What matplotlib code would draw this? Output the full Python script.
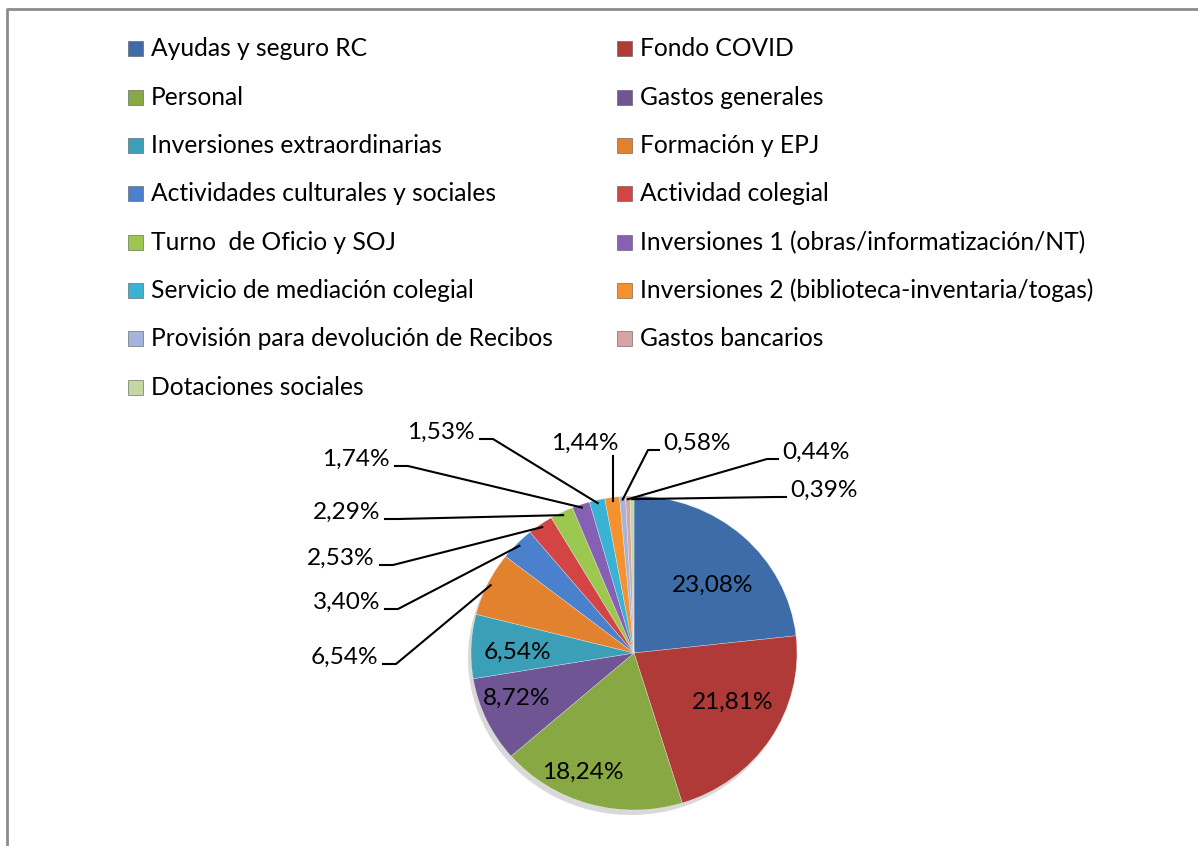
import numpy as np
import matplotlib.pyplot as plt
from matplotlib.patches import Rectangle, Ellipse

categories = ['Ayudas y seguro RC', 'Fondo COVID', 'Personal', 'Gastos generales',
              'Inversiones extraordinarias', 'Formación y EPJ',
              'Actividades culturales y sociales', 'Actividad colegial',
              'Turno  de Oficio y SOJ', 'Inversiones 1 (obras/informatización/NT)',
              'Servicio de mediación colegial', 'Inversiones 2 (biblioteca-inventaria/togas)',
              'Provisión para devolución de Recibos', 'Gastos bancarios',
              'Dotaciones sociales']
values = [23.08, 21.81, 18.24, 8.72, 6.54, 6.54, 3.40, 2.53, 2.29, 1.74,
          1.53, 1.44, 0.58, 0.44, 0.39]
colors = ['#3d6ca8', '#b03a37', '#87a843', '#6f5593', '#3b9fb8', '#e2822f',
          '#4a80cc', '#d34545', '#9cc850', '#8660b3', '#3ab2d4', '#f3922f',
          '#a3b5dc', '#d8a3a3', '#c4d7a2']

# layout, in image pixels (y down)
W, H = 1198, 846
cx, cy, rx, ry = 634, 653, 163, 157
# inside labels (center)
inside_pos = {0: (713, 585), 1: (733, 702), 2: (583, 772), 3: (517, 698), 4: (517, 652)}
# outside labels: (x, y, ha)
outside_pos = {5: (378, 657, 'right'), 6: (380, 602, 'right'), 7: (375, 558, 'right'),
               8: (380, 512, 'right'), 9: (390, 459, 'right'), 10: (475, 432, 'right'),
               11: (585, 443, 'center'), 12: (663, 443, 'left'), 13: (782, 452, 'left'),
               14: (790, 490, 'left')}

plt.rcParams['font.family'] = ['Lato', 'DejaVu Sans']

fig = plt.figure(figsize=(W / 100, H / 100), dpi=100)
bg = fig.add_axes([0, 0, 1, 1])
bg.set_xlim(0, W)
bg.set_ylim(H, 0)
bg.axis('off')

# chart frame
bg.plot([7, 7, W + 5], [H + 5, 9, 9], color='#8c8c8c', lw=2, solid_capstyle='butt')

# legend (two columns)
col_x = [128, 617]
row_y0, row_dy = 49, 48.3
for i, (lab, c) in enumerate(zip(categories, colors)):
    x = col_x[i % 2]
    y = row_y0 + (i // 2) * row_dy
    bg.add_patch(Rectangle((x, y - 7.5), 15, 15, facecolor=c, edgecolor='#555555', lw=0.4))
    bg.text(x + 23, y, lab, fontsize=17.7, va='center', ha='left', color='black')

bg.add_patch(Ellipse((cx - 3, cy + 5), 2 * rx, 2 * ry, facecolor='#000000', alpha=0.15, lw=0))

# pie
ax = fig.add_axes([(cx - rx) / W, (H - cy - ry) / H, 2 * rx / W, 2 * ry / H])
wedges, _ = ax.pie(values, colors=colors, startangle=90, counterclock=False,
                   wedgeprops=dict(linewidth=0.4, edgecolor='#ffffff80'))
ax.set_aspect('auto')
ax.set_xlim(-1, 1)
ax.set_ylim(-1, 1)
ax.axis('off')

# overlay for data labels and leader lines
top = fig.add_axes([0, 0, 1, 1])
top.set_xlim(0, W)
top.set_ylim(H, 0)
top.axis('off')
top.patch.set_alpha(0)

labels = [f'{v:.2f}%'.replace('.', ',') for v in values]

def to_img(theta, r=1.0):
    t = np.deg2rad(theta)
    return cx + rx * r * np.cos(t), cy - ry * r * np.sin(t)

for i, w in enumerate(wedges):
    mid = (w.theta1 + w.theta2) / 2
    if i in inside_pos:
        x, y = inside_pos[i]
        top.text(x, y, labels[i], fontsize=17.6, ha='center', va='center')
        continue
    x, y, ha = outside_pos[i]
    top.text(x, y, labels[i], fontsize=17.6, ha=ha, va='center')
    px, py = to_img(mid, 0.98)
    if ha == 'right':
        xs = [x + 5, x + 18, px]
        ys = [y + 7, y + 7, py]
    elif ha == 'left':
        xs = [x - 4, x - 15, px]
        ys = [y + 7, y + 7, py]
    else:
        xs = [px, px]
        ys = [y + 13, py]
    top.plot(xs, ys, color='black', lw=1.5)

fig.savefig('out.png', dpi=100)
